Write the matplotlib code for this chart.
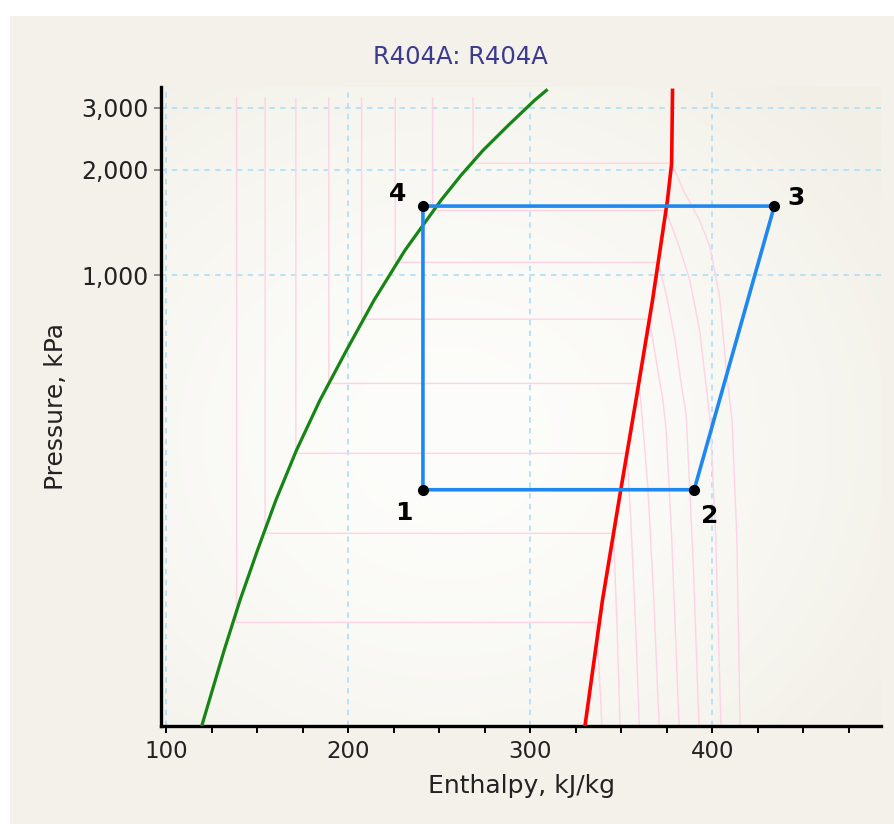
import numpy as np
import matplotlib
matplotlib.use("Agg")
import matplotlib.pyplot as plt
from matplotlib.patches import Rectangle
from matplotlib.ticker import FuncFormatter, FixedLocator, MultipleLocator

# ---- refrigerant data (R404A) ----
# saturated liquid line: enthalpy [kJ/kg], pressure [kPa]
sat_liq_h = [119.5, 120.1, 131.8, 140.5, 150.1, 160.2, 171.5, 184.4, 199.0,
             214.1, 231.1, 250.9, 262.0, 274.0, 287.9, 302.3, 308.8]
sat_liq_p = [52.0, 53.3, 85.4, 118.6, 164.6, 228.6, 317.2, 440.5, 611.4,
             848.6, 1178, 1636, 1930, 2270, 2676, 3152, 3365]

# saturated vapour line
sat_vap_h = [330.0, 339.6, 348.7, 358.0, 367.1, 375.3, 377.6, 378.1]
sat_vap_p = [52.0, 118.6, 228.6, 440.5, 848.6, 1636, 2085, 3365]

# isotherms: liquid-side enthalpy, saturation pressure, superheated branch
iso_liq_h = [138.6, 154.3, 171.2, 189.3, 207.3, 225.8, 246.3, 268.5]
iso_sat_p = [102.6, 184.0, 311.0, 492.0, 750.0, 1089, 1531, 2085]
iso_top_p = 3200
iso_vap_h = [
    [335.9, 337.8, 339.3],
    [345.7, 347.6, 349.3],
    [353.1, 355.2, 357.8, 359.9],
    [359.6, 361.3, 364.5, 367.8, 370.7],
    [365.4, 369.4, 372.6, 374.6, 377.6, 381.7],
    [370.2, 375.0, 379.5, 382.6, 385.6, 389.5, 392.6],
    [374.5, 381.8, 387.6, 393.0, 396.2, 398.8, 401.8, 404.7],
    [377.6, 384.0, 393.0, 398.7, 404.0, 408.2, 410.8, 413.4, 415.2],
]
iso_vap_p = [
    [102.6, 75.0, 52.0],
    [184.0, 100.0, 52.0],
    [311.0, 200.0, 100.0, 52.0],
    [492.0, 402.0, 250.0, 120.0, 52.0],
    [750.0, 560.0, 449.0, 362.0, 180.0, 52.0],
    [1089, 865.0, 653.0, 502.0, 400.0, 150.0, 52.0],
    [1531, 1204, 968.0, 697.0, 502.0, 386.0, 180.0, 52.0],
    [2085, 1747, 1434, 1202, 865.0, 502.0, 386.0, 180.0, 52.0],
]

# refrigeration cycle state points 1..4
cycle_labels = ["1", "2", "3", "4"]
cycle_h = [241.0, 390.0, 434.0, 241.0]
cycle_p = [245.0, 245.0, 1575.0, 1575.0]

x_ticks = [100, 200, 300, 400]
y_ticks = [1000, 2000, 3000]

# ---- figure ----
W, H = 895, 824
fig = plt.figure(figsize=(W / 100, H / 100), dpi=100)
fig.patch.set_facecolor("white")
beige = np.array([243, 241, 233]) / 255
fig.patches.append(Rectangle((10 / W, 0), 1 - 10 / W, 1 - 16 / H,
                             transform=fig.transFigure, facecolor=beige,
                             edgecolor="none", zorder=-10))

pos = [161.5 / W, 1 - 726 / H, (881 - 161.5) / W, (726 - 87) / H]

# soft radial backdrop of the plot area
bg = fig.add_axes(pos, zorder=-5)
gx, gy = np.meshgrid(np.linspace(0, 1, 300), np.linspace(0, 1, 300))
r = np.sqrt(((gx - 0.40) / 0.75) ** 2 + ((gy - 0.45) / 0.75) ** 2)
t = np.clip(r, 0, 1) ** 1.6
center = np.array([253, 253, 251]) / 255
edge = np.array([241, 239, 230]) / 255
img = center[None, None, :] * (1 - t[..., None]) + edge[None, None, :] * t[..., None]
bg.imshow(img, extent=[0, 1, 0, 1], aspect="auto", origin="lower")
bg.axis("off")

ax = fig.add_axes(pos)
ax.set_facecolor("none")
ax.set_yscale("log")
ax.set_xlim(97.4, 492.6)
ax.set_ylim(52, 3440)

pink = "#ffd3e4"
for hl, ps, vh, vp in zip(iso_liq_h, iso_sat_p, iso_vap_h, iso_vap_p):
    hs = [hl, hl] + vh
    pp = [iso_top_p, ps] + vp
    ax.plot(hs, pp, color=pink, lw=1.0, zorder=1)

# grid
grid_col = "#b3e0f7"
for xv in x_ticks:
    ax.axvline(xv, color=grid_col, lw=1.3, ls=(0, (3, 3)), zorder=0.5)
for yv in y_ticks:
    ax.axhline(yv, color=grid_col, lw=1.3, ls=(0, (3, 3)), zorder=0.5)

ax.plot(sat_liq_h, sat_liq_p, color="#158515", lw=2.3, zorder=3)
ax.plot(sat_vap_h, sat_vap_p, color="#ff0000", lw=2.6, zorder=3)

loop_h = cycle_h + [cycle_h[0]]
loop_p = cycle_p + [cycle_p[0]]
ax.plot(loop_h, loop_p, color="#1e88f0", lw=2.6, zorder=4)
ax.plot(cycle_h, cycle_p, "o", color="black", ms=7, zorder=5)

offsets = [(-14, -17), (11, -19), (16, 6), (-18, 9)]
for lab, hv, pv, off in zip(cycle_labels, cycle_h, cycle_p, offsets):
    ax.annotate(lab, (hv, pv), xytext=off, textcoords="offset points",
                ha="center", va="center", fontsize=18, fontweight="bold",
                color="black", zorder=6)

# axes styling
for s in ["top", "right"]:
    ax.spines[s].set_visible(False)
for s in ["left", "bottom"]:
    ax.spines[s].set_linewidth(2.4)
    ax.spines[s].set_color("black")

ax.xaxis.set_major_locator(FixedLocator(x_ticks))
ax.xaxis.set_minor_locator(MultipleLocator(25))
ax.tick_params(axis="x", which="both", direction="out", length=5, width=1.4,
               color="black", labelsize=16.5, labelcolor="#222222", pad=5)
ax.yaxis.set_major_locator(FixedLocator(y_ticks))
ax.yaxis.set_minor_locator(FixedLocator([]))
ax.yaxis.set_major_formatter(FuncFormatter(lambda v, p: f"{int(v):,}"))
ax.tick_params(axis="y", which="major", direction="out", length=5, width=1.4,
               color="#888888", labelsize=17, labelcolor="#222222", pad=4)

ax.set_xlabel("Enthalpy, kJ/kg", fontsize=18, color="#222222", labelpad=8)
ax.set_ylabel("Pressure, kPa", fontsize=18, color="#222222", labelpad=10)
fig.text(460 / W, 1 - 57 / H, "R404A: R404A", fontsize=17.5, color="#3c3a8c",
         ha="center", va="center")

fig.savefig("out.png", dpi=100)
